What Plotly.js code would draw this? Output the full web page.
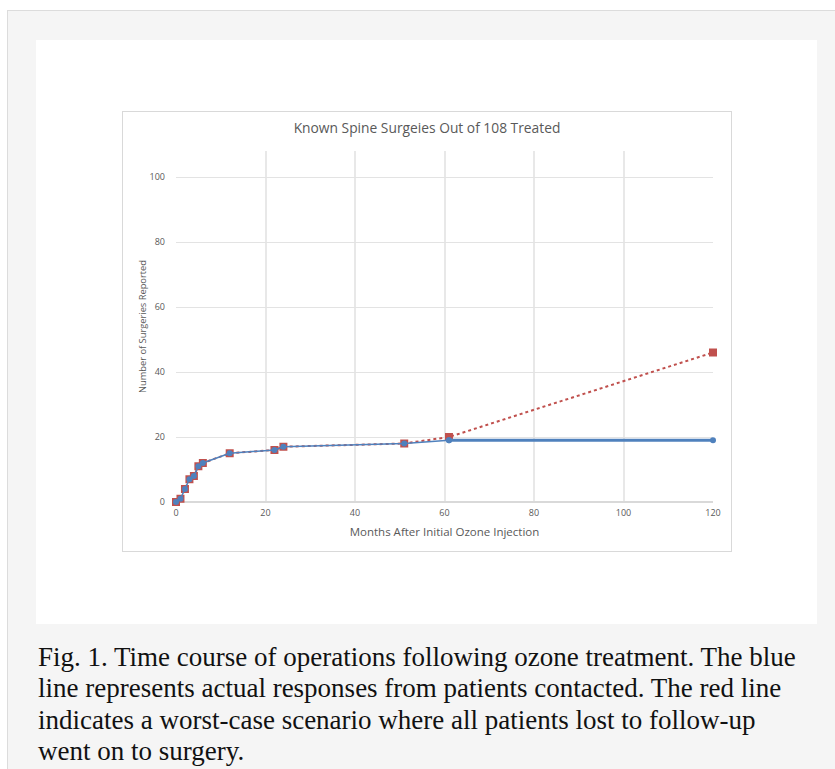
<!DOCTYPE html>
<html>
<head>
<meta charset="utf-8">
<script src="https://cdn.plot.ly/plotly-3.0.1.min.js"></script>
<style>
  html, body { margin: 0; padding: 0; background: #ffffff; width: 835px; height: 769px; overflow: hidden; }
  #outer { position: absolute; left: 7px; top: 10px; width: 840px; height: 780px; background: #f5f5f5; border: 1px solid #dcdcdc; }
  #panel { position: absolute; left: 36px; top: 40px; width: 781px; height: 584px; background: #ffffff; }
  #chart { position: absolute; left: 122px; top: 111px; width: 608px; height: 439px; border: 1px solid #d9d9d9; }
  #caption { position: absolute; left: 38px; top: 642px; font-family: "Liberation Serif", "DejaVu Serif", serif; font-size: 27px; line-height: 31.3px; color: #111111; white-space: nowrap; }
</style>
</head>
<body>
<div id="outer"></div>
<div id="panel"></div>
<div id="chart"></div>
<div id="caption">Fig. 1. Time course of operations following ozone treatment. The blue<br>line represents actual responses from patients contacted. The red line<br>indicates a worst-case scenario where all patients lost to follow-up<br>went on to surgery.</div>
<script>
const months = [0, 1, 2, 3, 4, 5, 6, 12, 22, 24, 51, 61, 120];
const actualSurgeries = [0, 1, 4, 7, 8, 11, 12, 15, 16, 17, 18, 19, 19];
const worstCaseSurgeries = [0, 1, 4, 7, 8, 11, 12, 15, 16, 17, 18, 20, 46];
const xTicks = [0, 20, 40, 60, 80, 100, 120];
const yTicks = [0, 20, 40, 60, 80, 100];

const red = '#c0504d';
const blue = '#4f81bd';
const n = months.length;

const traces = [
  {
    x: months, y: worstCaseSurgeries, type: 'scatter', mode: 'lines+markers',
    line: { color: red, width: 2, dash: 'dot' },
    marker: { symbol: 'square', size: 8, color: red },
    cliponaxis: false, hoverinfo: 'x+y', name: 'Worst case'
  },
  {
    x: months.slice(0, n - 1), y: actualSurgeries.slice(0, n - 1), type: 'scatter', mode: 'lines+markers',
    line: { color: blue, width: 1.5 },
    marker: { symbol: 'circle', size: 6, color: blue },
    cliponaxis: false, hoverinfo: 'x+y', name: 'Actual'
  },
  {
    x: months.slice(n - 2), y: actualSurgeries.slice(n - 2), type: 'scatter', mode: 'lines+markers',
    line: { color: blue, width: 3 },
    marker: { symbol: 'circle', size: 6, color: blue },
    cliponaxis: false, hoverinfo: 'x+y', name: 'Actual (later)'
  }
];

const layout = {
  width: 608, height: 439,
  margin: { l: 53, r: 18, t: 39, b: 49, pad: 0 },
  paper_bgcolor: '#ffffff', plot_bgcolor: '#ffffff',
  showlegend: false,
  font: { family: '"Open Sans", "Liberation Sans", sans-serif', color: '#595959' },
  title: {
    text: 'Known Spine Surgeies Out of 108 Treated',
    font: { size: 13.8, color: '#595959', family: '"Open Sans", "Liberation Sans", sans-serif' },
    x: 0.5, xanchor: 'center', xref: 'container', y: 1, yanchor: 'top', yref: 'container', pad: { t: 11 }
  },
  xaxis: {
    range: [0, 120], tickvals: xTicks, ticktext: xTicks.map(String),
    showgrid: true, gridcolor: '#e8e8e8', gridwidth: 2,
    zeroline: false, showline: false, ticks: '',
    tickfont: { size: 9, color: '#595959' },
    ticklabelstandoff: 4,
    title: { text: 'Months After Initial Ozone Injection', font: { size: 11.5, color: '#595959' }, standoff: 9 }
  },
  yaxis: {
    range: [0, 108], tickvals: yTicks, ticktext: yTicks.map(String),
    showgrid: true, gridcolor: '#e3e3e3', gridwidth: 1,
    zeroline: true, zerolinecolor: '#d9d9d9', zerolinewidth: 1.5,
    showline: false, ticks: '',
    tickfont: { size: 9, color: '#595959' },
    ticklabelstandoff: 10,
    title: { text: 'Number of Surgeries Reported', font: { size: 9.3, color: '#595959' }, standoff: 1 }
  }
};

Plotly.newPlot('chart', traces, layout, { displayModeBar: false, staticPlot: true });
</script>
</body>
</html>
